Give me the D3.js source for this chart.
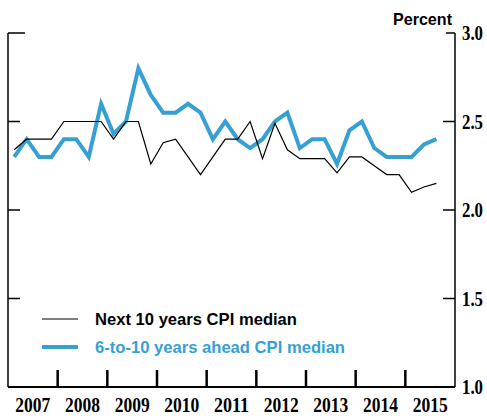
<!DOCTYPE html>
<html><head><meta charset="utf-8">
<script src="https://cdn.jsdelivr.net/npm/d3@7"></script>
<style>body{margin:0;background:#fff}svg{display:block}</style>
</head><body>
<script>
const years = ["2007","2008","2009","2010","2011","2012","2013","2014","2015"];
const yTicks = [1.0, 1.5, 2.0, 2.5, 3.0];
// quarterly, 2007Q1 .. 2015Q3
const next10 = [2.34,2.4,2.4,2.4,2.5,2.5,2.5,2.5,2.4,2.5,2.5,2.26,2.38,2.4,2.3,2.2,2.3,2.4,2.4,2.5,2.29,2.49,2.34,2.29,2.29,2.29,2.21,2.3,2.3,2.25,2.2,2.2,2.1,2.13,2.15];
const sixTo10 = [2.3,2.4,2.3,2.3,2.4,2.4,2.3,2.6,2.43,2.5,2.8,2.65,2.55,2.55,2.6,2.55,2.4,2.5,2.4,2.35,2.4,2.5,2.55,2.35,2.4,2.4,2.26,2.45,2.5,2.35,2.3,2.3,2.3,2.37,2.4];
const seriesNames = ["Next 10 years CPI median","6-to-10 years ahead CPI median"];

const W=487,H=419, L=8, R=455, T=33, B=387;
const blue="#37a0d3";
const serif="Liberation Serif, Times New Roman, serif";
const sans="Liberation Sans, Arial, sans-serif";
const svg=d3.select("body").append("svg").attr("width",W).attr("height",H);
const x=d3.scaleLinear().domain([2007,2016]).range([L,R]);
const y=d3.scaleLinear().domain([1,3]).range([B,T]);
const qx=i=>x(2007+(i+0.5)/4);

// frame
svg.append("line").attr("x1",L).attr("x2",L).attr("y1",T).attr("y2",B).attr("stroke","#000").attr("stroke-width",1.5);
svg.append("line").attr("x1",R).attr("x2",R).attr("y1",T).attr("y2",B).attr("stroke","#000").attr("stroke-width",1.5);
svg.append("line").attr("x1",L).attr("x2",R).attr("y1",B).attr("y2",B).attr("stroke","#000").attr("stroke-width",2);

// y ticks both sides
yTicks.forEach(v=>{
  if(v===1.0) return;
  const len = v===3.0?17:12;
  svg.append("line").attr("x1",L).attr("x2",L+len).attr("y1",y(v)).attr("y2",y(v)).attr("stroke","#000").attr("stroke-width",1.5);
  svg.append("line").attr("x1",R-(v===3.0?9:12)).attr("x2",R).attr("y1",y(v)).attr("y2",y(v)).attr("stroke","#000").attr("stroke-width",1.5);
});
// right axis labels
svg.append("g").selectAll("text").data(yTicks).join("text")
  .attr("x",R+7).attr("y",d=>y(d)+7)
  .attr("font-family",serif).attr("font-size",21).attr("font-weight","bold")
  .attr("textLength",21).attr("lengthAdjust","spacingAndGlyphs")
  .text(d=>d.toFixed(1));
svg.append("text").attr("x",393).attr("y",25)
  .attr("font-family",sans).attr("font-size",17).attr("font-weight","bold")
  .attr("textLength",59).attr("lengthAdjust","spacingAndGlyphs")
  .text("Percent");

// x ticks at year boundaries
d3.range(2008,2016).forEach(yr=>{
  svg.append("line").attr("x1",x(yr)).attr("x2",x(yr)).attr("y1",B).attr("y2",B-17).attr("stroke","#000").attr("stroke-width",2.5);
});
svg.append("g").selectAll("text").data(years).join("text")
  .attr("x",d=>x(+d+0.5)-17.5).attr("y",412)
  .attr("font-family",serif).attr("font-size",21).attr("font-weight","bold")
  .attr("textLength",35).attr("lengthAdjust","spacingAndGlyphs")
  .text(d=>d);

// lines
const line=d3.line().x((d,i)=>qx(i)).y(d=>y(d));
svg.append("path").datum(sixTo10).attr("d",line).attr("fill","none").attr("stroke",blue).attr("stroke-width",4).attr("stroke-linejoin","miter");
svg.append("path").datum(next10).attr("d",line).attr("fill","none").attr("stroke","#000").attr("stroke-width",1.2);

// legend
const lg=[{c:"#000",w:1.2,y:319,len:202},{c:blue,w:4,y:347,len:250}];
lg.forEach((d,i)=>{
  svg.append("line").attr("x1",42).attr("x2",78).attr("y1",d.y).attr("y2",d.y).attr("stroke",d.c).attr("stroke-width",d.w);
  svg.append("text").attr("x",95).attr("y",d.y+6)
    .attr("font-family",sans).attr("font-size",17).attr("font-weight","bold")
    .attr("textLength",d.len).attr("lengthAdjust","spacingAndGlyphs")
    .attr("fill",i===0?"#000":blue).text(seriesNames[i]);
});
</script>
</body></html>
